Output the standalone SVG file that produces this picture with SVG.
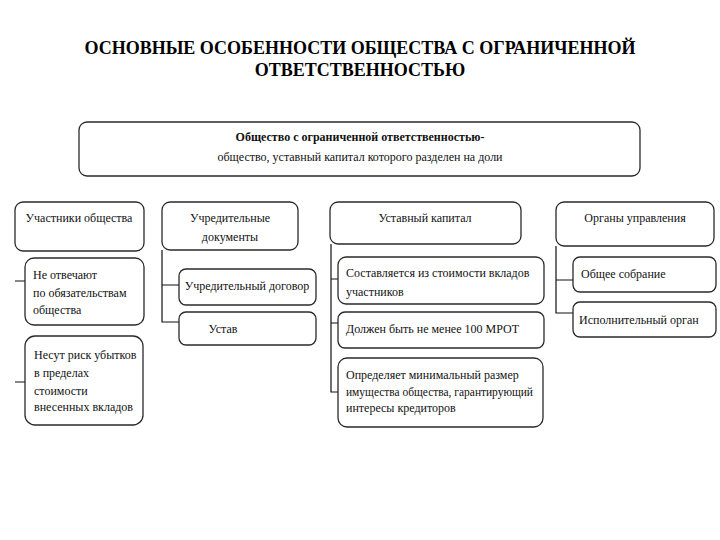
<svg xmlns="http://www.w3.org/2000/svg" width="720" height="540" viewBox="0 0 720 540">
<style>
.bx{fill:#fff;stroke:#2a2a2a;stroke-width:1.3}
.t{font-family:"Liberation Serif","Times New Roman",serif;font-size:12px;fill:#111}
.c{text-anchor:middle}
.b{font-weight:bold}
.ttl{font-family:"Liberation Serif","Times New Roman",serif;font-size:18px;font-weight:bold;fill:#000;text-anchor:middle}
.ln{stroke:#111;stroke-width:1.2;fill:none}
</style>
<rect width="720" height="540" fill="#fff"/>
<g id="title">
<text class="ttl" x="360" y="54">ОСНОВНЫЕ ОСОБЕННОСТИ ОБЩЕСТВА С ОГРАНИЧЕННОЙ</text>
<text class="ttl" x="360" y="76">ОТВЕТСТВЕННОСТЬЮ</text>
</g>
<g id="connectors">
<path class="ln" d="M15 281H25M15 382H25"/>
<path class="ln" d="M162 250V322H179M162 285H179"/>
<path class="ln" d="M331 244V392H338M331 279H338M331 323H338"/>
<path class="ln" d="M556 246V313H573M556 280H573"/>
</g>
<g id="top">
<rect class="bx" x="79" y="122" width="561" height="54" rx="8"/>
<text class="t c b" x="360" y="141">Общество с ограниченной ответственностью-</text>
<text class="t c" x="360" y="161">общество, уставный капитал которого разделен на доли</text>
</g>
<g id="h1">
<rect class="bx" x="15" y="202" width="129" height="49" rx="8"/>
<text class="t c" x="79" y="222">Участники общества</text>
</g>
<g id="h2">
<rect class="bx" x="162" y="202" width="136" height="48" rx="8"/>
<text class="t c" x="230" y="222">Учредительные</text>
<text class="t c" x="230" y="241">документы</text>
</g>
<g id="h3">
<rect class="bx" x="330" y="202" width="191" height="42" rx="8"/>
<text class="t c" x="425" y="222">Уставный капитал</text>
</g>
<g id="h4">
<rect class="bx" x="556" y="202" width="158" height="44" rx="8"/>
<text class="t c" x="635" y="222">Органы управления</text>
</g>
<g id="c1a">
<rect class="bx" x="25" y="258" width="119" height="67" rx="9"/>
<text class="t" x="33" y="279">Не отвечают</text>
<text class="t" x="33" y="297">по обязательствам</text>
<text class="t" x="33" y="314">общества</text>
</g>
<g id="c1b">
<rect class="bx" x="25" y="336" width="118" height="89" rx="10"/>
<text class="t" x="34" y="359">Несут риск убытков</text>
<text class="t" x="34" y="377">в пределах</text>
<text class="t" x="34" y="395">стоимости</text>
<text class="t" x="34" y="411">внесенных вкладов</text>
</g>
<g id="c2a">
<rect class="bx" x="179" y="269" width="137" height="36" rx="7"/>
<text class="t c" x="247" y="290">Учредительный договор</text>
</g>
<g id="c2b">
<rect class="bx" x="179" y="312" width="137" height="33" rx="7"/>
<text class="t c" x="223" y="333">Устав</text>
</g>
<g id="c3a">
<rect class="bx" x="338" y="257" width="206" height="47" rx="8"/>
<text class="t" x="346" y="277">Составляется из стоимости вкладов</text>
<text class="t" x="346" y="296">участников</text>
</g>
<g id="c3b">
<rect class="bx" x="338" y="312" width="206" height="36" rx="7"/>
<text class="t" x="346" y="333">Должен быть не менее 100 МРОТ</text>
</g>
<g id="c3c">
<rect class="bx" x="338" y="358" width="205" height="69" rx="9"/>
<text class="t" x="346" y="379">Определяет минимальный размер</text>
<text class="t" x="346" y="396" textLength="187" lengthAdjust="spacingAndGlyphs">имущества общества, гарантирующий</text>
<text class="t" x="346" y="412">интересы кредиторов</text>
</g>
<g id="c4a">
<rect class="bx" x="573" y="257" width="143" height="35" rx="7"/>
<text class="t" x="581" y="278">Общее собрание</text>
</g>
<g id="c4b">
<rect class="bx" x="573" y="302" width="143" height="35" rx="7"/>
<text class="t" x="579" y="324">Исполнительный орган</text>
</g>
</svg>
